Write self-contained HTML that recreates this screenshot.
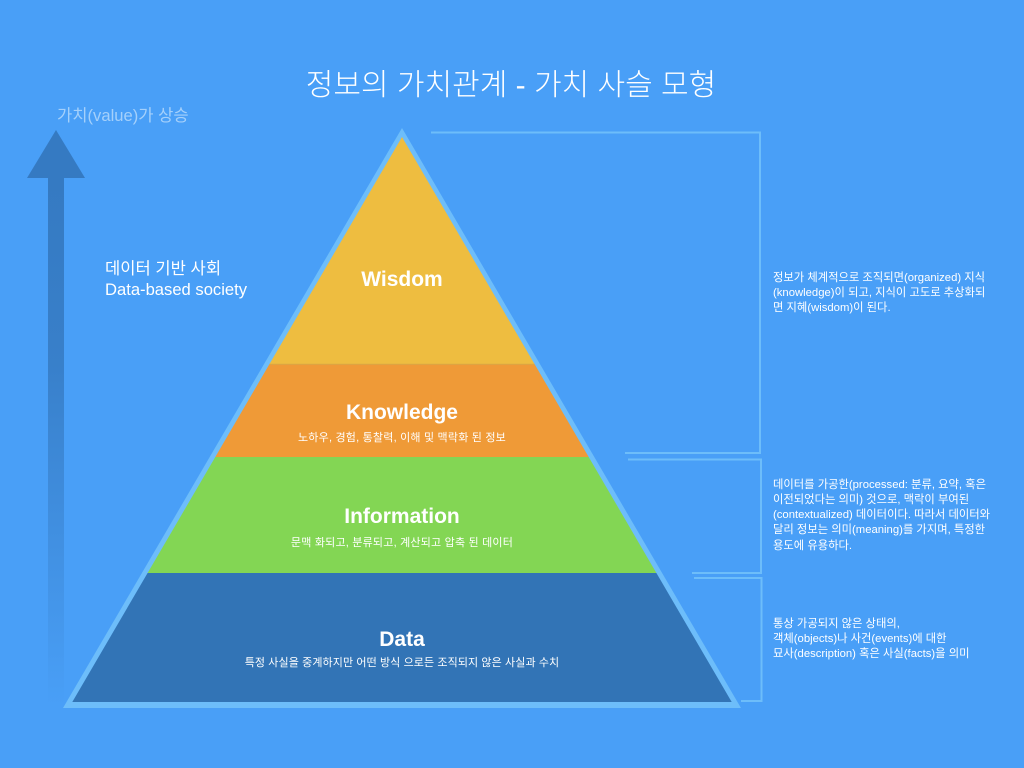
<!DOCTYPE html>
<html>
<head>
<meta charset="utf-8">
<style>
html,body{margin:0;padding:0;background:#499ff7;}
svg{display:block;}
text{font-family:"Liberation Sans","Noto Sans CJK KR",sans-serif;}
</style>
</head>
<body>
<svg width="1024" height="768" viewBox="0 0 1024 768" xmlns="http://www.w3.org/2000/svg">
<defs>
<linearGradient id="sh" x1="0" y1="178" x2="0" y2="705" gradientUnits="userSpaceOnUse">
<stop offset="0" stop-color="#357ac2" stop-opacity="1"/>
<stop offset="0.35" stop-color="#357ac2" stop-opacity="0.85"/>
<stop offset="1" stop-color="#357ac2" stop-opacity="0"/>
</linearGradient>
</defs>
<rect width="1024" height="768" fill="#499ff7"/>

<!-- title -->
<text x="511" y="95" font-size="30" fill="#ffffff" text-anchor="middle" font-weight="300">정보의 가치관계 - 가치 사슬 모형</text>

<!-- left arrow -->
<text x="57" y="121" font-size="16.6" fill="#a4d0fb">가치(value)가 상승</text>
<polygon points="56,130 27,178 85,178" fill="#357ac2"/>
<rect x="48" y="178" width="16" height="527" fill="url(#sh)"/>

<text x="105" y="274" font-size="16.6" fill="#ffffff">데이터 기반 사회</text>
<text x="105" y="295" font-size="16.6" fill="#ffffff">Data-based society</text>

<!-- pyramid -->
<polygon points="402,128 63,708 741,708" fill="#6dbdfa"/>
<polygon points="402,137 269.5,364 534.5,364" fill="#eebd40"/>
<polygon points="269.5,364 534.5,364 588.7,457 215.3,457" fill="#ef9a37"/>
<line x1="269.5" y1="364.3" x2="534.5" y2="364.3" stroke="#d9a845" stroke-width="1"/>
<polygon points="215.3,457 588.7,457 656.4,573 147.6,573" fill="#83d654"/>
<polygon points="147.6,573 656.4,573 731.7,702 72.3,702" fill="#3274b6"/>

<text x="402" y="286" font-size="21" font-weight="bold" fill="#ffffff" text-anchor="middle">Wisdom</text>
<text x="402" y="419" font-size="21" font-weight="bold" fill="#ffffff" text-anchor="middle">Knowledge</text>
<text x="402" y="441" font-size="11" fill="#ffffff" text-anchor="middle" letter-spacing="0.2">노하우, 경험, 통찰력, 이해 및 맥락화 된 정보</text>
<text x="402" y="523" font-size="21" font-weight="bold" fill="#ffffff" text-anchor="middle">Information</text>
<text x="402" y="546" font-size="11" fill="#ffffff" text-anchor="middle" letter-spacing="0.2">문맥 화되고, 분류되고, 계산되고 압축 된 데이터</text>
<text x="402" y="646" font-size="21" font-weight="bold" fill="#ffffff" text-anchor="middle">Data</text>
<text x="402" y="666" font-size="11" fill="#ffffff" text-anchor="middle" letter-spacing="0.1">특정 사실을 중계하지만 어떤 방식 으로든 조직되지 않은 사실과 수치</text>

<!-- brackets -->
<g fill="none" stroke="#6dbdfa" stroke-width="2">
<polyline points="431,132.5 760,132.5 760,453 625,453"/>
<polyline points="628,459.5 761,459.5 761,573 692,573"/>
<polyline points="694,578 761.5,578 761.5,701 741,701"/>
</g>

<!-- right descriptions -->
<g font-size="11.3" fill="#ffffff">
<text x="773" y="281">정보가 체계적으로 조직되면(organized) 지식</text>
<text x="773" y="296">(knowledge)이 되고, 지식이 고도로 추상화되</text>
<text x="773" y="311">면 지혜(wisdom)이 된다.</text>

<text x="773" y="488">데이터를 가공한(processed: 분류, 요약, 혹은</text>
<text x="773" y="503">이전되었다는 의미) 것으로, 맥락이 부여된</text>
<text x="773" y="518">(contextualized) 데이터이다. 따라서 데이터와</text>
<text x="773" y="533">달리 정보는 의미(meaning)를 가지며, 특정한</text>
<text x="773" y="549">용도에 유용하다.</text>

<text x="773" y="627">통상 가공되지 않은 상태의,</text>
<text x="773" y="642">객체(objects)나 사건(events)에 대한</text>
<text x="773" y="657">묘사(description) 혹은 사실(facts)을 의미</text>
</g>
</svg>
</body>
</html>
